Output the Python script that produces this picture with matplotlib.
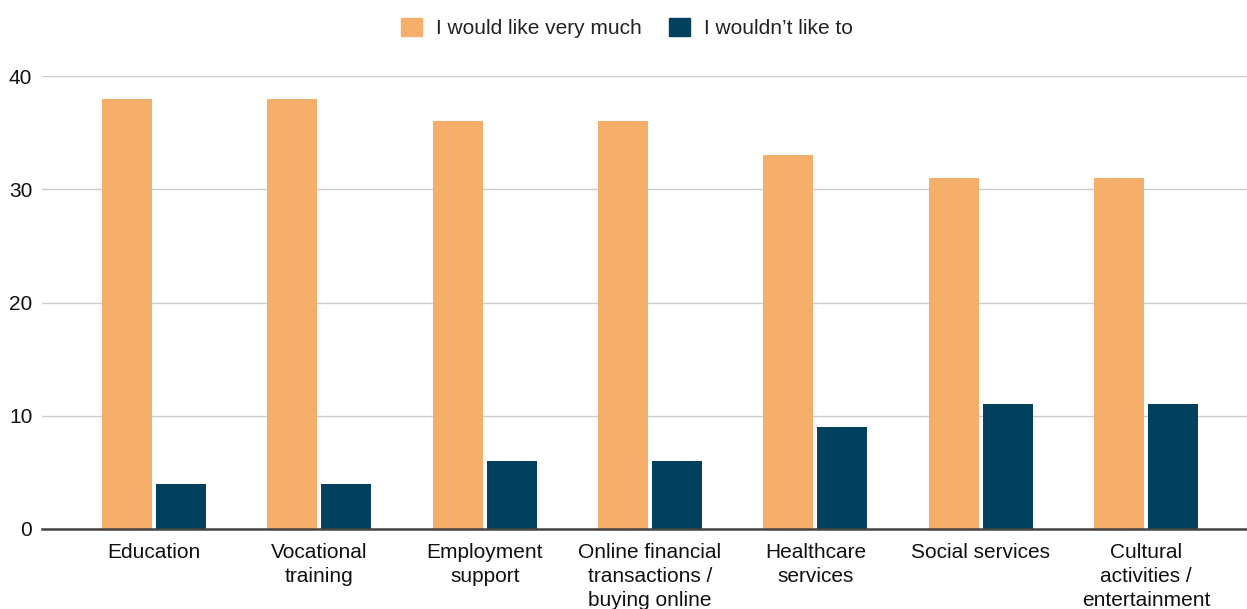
import numpy as np
import matplotlib
matplotlib.use("Agg")
import matplotlib.pyplot as plt
from matplotlib.patches import Patch

plt.rcParams['font.family'] = ['Liberation Sans', 'DejaVu Sans']

categories = ["Education", "Vocational\ntraining", "Employment\nsupport",
              "Online financial\ntransactions /\nbuying online",
              "Healthcare\nservices", "Social services",
              "Cultural\nactivities /\nentertainment"]
like_very_much = [38, 38, 36, 36, 33, 31, 31]
would_not_like = [4, 4, 6, 6, 9, 11, 11]

c_like = "#F5AF6A"
c_not = "#02415E"

fig = plt.figure(figsize=(12.47, 6.09), dpi=100)
W, H = 1247, 609
ax = fig.add_axes([42 / W, (H - 529) / H, (1247 - 42) / W, (529 - 76) / H])

x = np.arange(len(categories))
bw = 0.302
off = 0.163
ax.bar(x - off, like_very_much, bw, color=c_like, zorder=3)
ax.bar(x + off, would_not_like, bw, color=c_not, zorder=3)

ax.set_xlim(-0.678, 6.611)
ax.set_ylim(0, 40)
ax.set_yticks([0, 10, 20, 30, 40])
ax.set_xticks(x)
ax.set_xticklabels(categories, fontsize=15, linespacing=1.33, va="top")
ax.tick_params(axis="y", labelsize=15, length=0, pad=7, labelcolor="#111111")
ax.tick_params(axis="x", length=0, pad=10, labelcolor="#111111")

ax.grid(axis="y", color="#cccccc", linewidth=1, zorder=0)
for s in ["top", "right", "left"]:
    ax.spines[s].set_visible(False)
ax.spines["bottom"].set_color("#444444")
ax.spines["bottom"].set_linewidth(1.8)
ax.spines["bottom"].set_zorder(4)

handles = [Patch(color=c_like, label="I would like very much"),
           Patch(color=c_not, label="I wouldn\u2019t like to")]
fig.legend(handles=handles, loc="center", bbox_to_anchor=(627 / W, 1 - 28 / H),
           ncol=2, frameon=False, fontsize=15, handlelength=1.0, handleheight=1.0,
           handletextpad=0.7, columnspacing=1.3, labelcolor="#222222")

fig.savefig("out.png", dpi=100)
